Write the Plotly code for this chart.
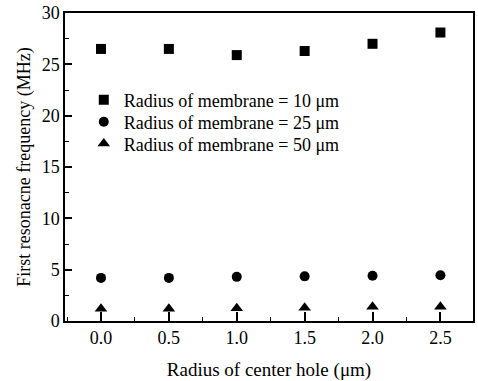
import plotly.graph_objects as go

hole_radius = [0.0, 0.5, 1.0, 1.5, 2.0, 2.5]
freq_10um = [26.5, 26.5, 25.9, 26.3, 27.0, 28.1]
freq_25um = [4.2, 4.2, 4.3, 4.35, 4.4, 4.45]
freq_50um = [1.2, 1.2, 1.25, 1.3, 1.4, 1.4]
series_names = ["Radius of membrane = 10 μm", "Radius of membrane = 25 μm", "Radius of membrane = 50 μm"]
x_ticks = [0.0, 0.5, 1.0, 1.5, 2.0, 2.5]
x_ticklabels = ["0.0", "0.5", "1.0", "1.5", "2.0", "2.5"]
y_ticks = [0, 5, 10, 15, 20, 25, 30]

ff = "Liberation Serif"

fig = go.Figure()
legend_ids = ["legend", "legend2", "legend3"]
for ys, name, sym, sz, lg in [(freq_10um, series_names[0], "square", 10, legend_ids[0]),
                              (freq_25um, series_names[1], "circle", 10, legend_ids[1]),
                              (freq_50um, series_names[2], "triangle-up", 11, legend_ids[2])]:
    fig.add_trace(go.Scatter(x=hole_radius, y=ys, mode="markers", name=name, legend=lg,
                             marker=dict(symbol=sym, size=sz, color="black")))

leg_common = dict(x=0.046, xanchor="left", yanchor="middle", bgcolor="rgba(0,0,0,0)",
                  font=dict(size=18, family=ff, color="black"))
fig.update_layout(
    width=478, height=381,
    margin=dict(l=65, r=3, t=10, b=60),
    paper_bgcolor="white", plot_bgcolor="white",
    font=dict(family=ff, color="black", size=17),
    showlegend=True,
    legend=dict(y=0.717, **leg_common),
    legend2=dict(y=0.646, **leg_common),
    legend3=dict(y=0.575, **leg_common),
)
fig.update_xaxes(range=[-0.265, 2.74], tickvals=x_ticks, ticktext=x_ticklabels,
                 ticks="inside", ticklen=9, tickwidth=1.5, tickcolor="black",
                 minor=dict(dtick=0.25, ticks="inside", ticklen=4, tickcolor="black", tickwidth=1.2),
                 showline=True, linecolor="black", linewidth=1.5, mirror=True,
                 showgrid=False, zeroline=False,
                 title=dict(text="Radius of center hole (μm)", font=dict(size=19, family=ff, color="black"), standoff=16),
                 tickfont=dict(size=18, family=ff, color="black"))
fig.update_yaxes(range=[0, 30], tickvals=y_ticks,
                 ticks="inside", ticklen=7, tickwidth=1.5, tickcolor="black",
                 minor=dict(dtick=2.5, ticks="inside", ticklen=4, tickcolor="black", tickwidth=1.2),
                 showline=True, linecolor="black", linewidth=1.5, mirror=True,
                 showgrid=False, zeroline=False,
                 title=dict(text="First resonacne frequency (MHz)", font=dict(size=18, family=ff, color="black"), standoff=6),
                 tickfont=dict(size=18, family=ff, color="black"))

fig.write_html("out.html")
